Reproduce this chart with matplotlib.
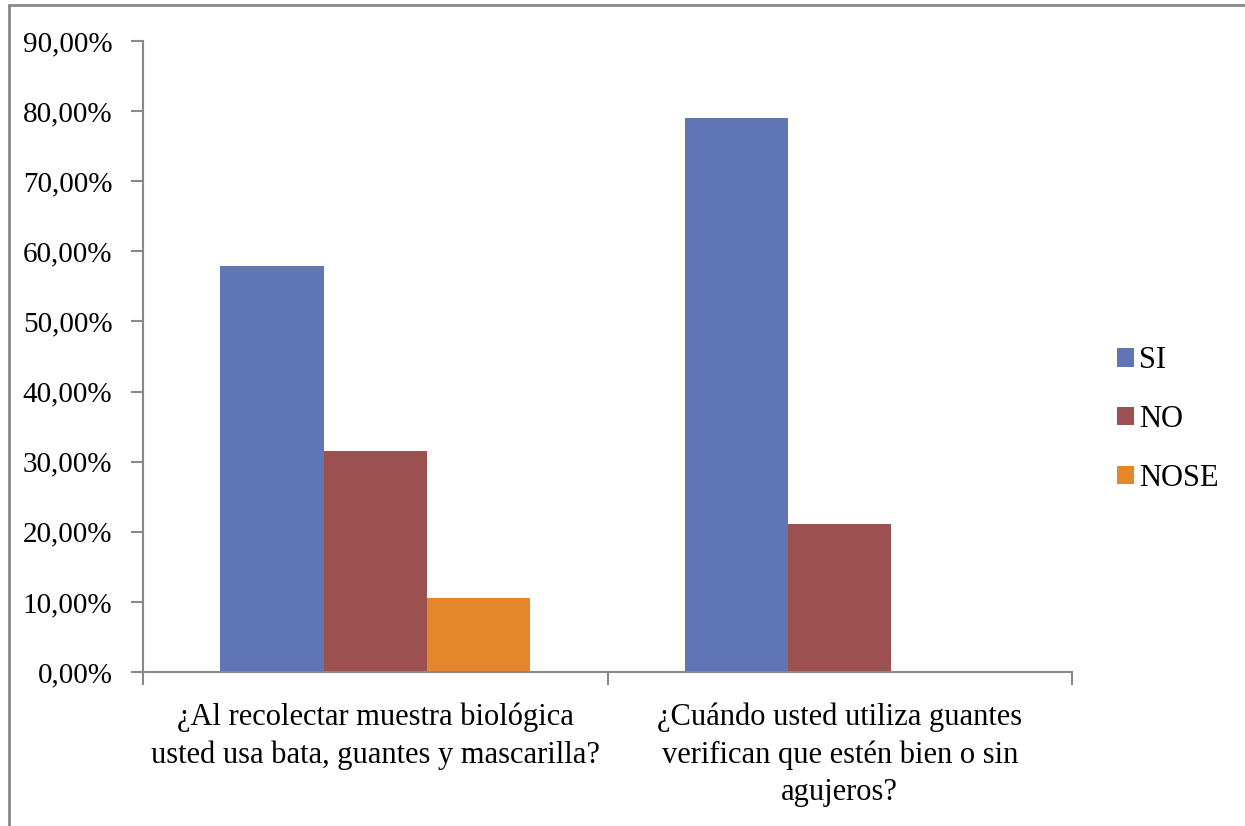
import numpy as np
import matplotlib.pyplot as plt
from matplotlib.patches import Rectangle
from matplotlib.ticker import FuncFormatter

categories = ["¿Al recolectar muestra biológica\nusted usa bata, guantes y mascarilla?",
              "¿Cuándo usted utiliza guantes\nverifican que estén bien o sin\nagujeros?"]
series = ["SI", "NO", "NOSE"]
si = [0.5789, 0.7895]
no = [0.3158, 0.2105]
nose = [0.1053, 0.0]
colors = ["#6075B4", "#9C5151", "#E6862A"]

plt.rcParams['font.family'] = ['Liberation Serif', 'DejaVu Serif']

fig = plt.figure(figsize=(12.45, 8.26), dpi=100)
ax = fig.add_axes([143/1245, 1 - 672/826, (1072-143)/1245, (672-41)/826])

# outer chart border (left and top edges visible)
fig.patches.append(Rectangle((9/1245, -0.05), 1.1, 1 - 5/826 + 0.05,
                             transform=fig.transFigure, fill=False,
                             edgecolor="#888888", linewidth=2))

x = np.arange(len(categories))
w = 1 / 4.5
for i, (vals, name) in enumerate(zip([si, no, nose], series)):
    ax.bar(x + (i - 1) * w, vals, w, color=colors[i], label=name)

ax.set_xlim(-0.5, 1.5)
ax.set_ylim(0, 0.9)
ax.set_yticks(np.arange(0, 0.91, 0.1))
ax.yaxis.set_major_formatter(FuncFormatter(lambda v, p: f"{v*100:.2f}%".replace(".", ",")))
ax.set_xticks([-0.5, 0.5, 1.5], minor=False)
ax.set_xticklabels(["", "", ""])
ax.set_xticks(x, minor=True)
ax.set_xticklabels(categories, minor=True, fontsize=22, linespacing=1.38)
ax.tick_params(axis="x", which="minor", length=0, pad=22)
ax.tick_params(axis="x", which="major", length=9, color="#888888", width=1.5)
ax.tick_params(axis="y", length=9, color="#888888", width=1.5, labelsize=21, pad=13)

for s in ["top", "right"]:
    ax.spines[s].set_visible(False)
for s in ["left", "bottom"]:
    ax.spines[s].set_color("#888888")
    ax.spines[s].set_linewidth(1.5)

ax.legend(loc="center left", bbox_to_anchor=(1.019, 0.4), frameon=False,
          fontsize=22, handlelength=0.55, handleheight=0.55, handletextpad=0.18,
          labelspacing=0.97)

fig.savefig("out.png", dpi=100)
